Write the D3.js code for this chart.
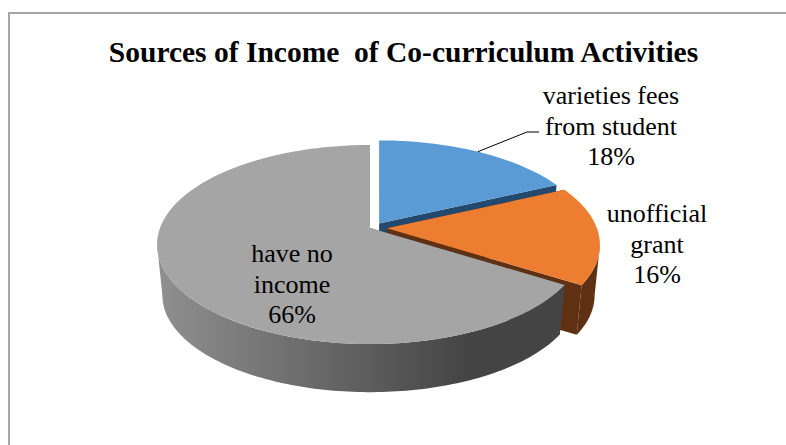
<!doctype html>
<html lang="en">
<head>
<meta charset="utf-8">
<style>
  body { margin: 0; background: #fff; }
  text { font-family: "Liberation Serif", serif; fill: #000; }
</style>
</head>
<body>
<div id="grafico"></div>
<script src="https://d3js.org/d3.v7.min.js"></script>
<script>
const categories = ["varieties fees from student", "unofficial grant", "have no income"];
const shares = [18, 16, 66];
const labelLines = [["varieties fees", "from student", "18%"], ["unofficial", "grant", "16%"], ["have no", "income", "66%"]];
const topColors = ["#5b9bd5", "#ed7d31", "#a5a5a5"];
const sideColors = ["#234a6e", "#5f3112", "#444444"];

const width = 786, height = 445;
const svg = d3.select("#grafico").append("svg").attr("width", width).attr("height", height).style("display", "block");

const line = d3.line();

// frame, only top and left are in the picture
svg.append("path").attr("d", line([[9, height], [9, 13], [width, 13]]))
  .attr("fill", "none").attr("stroke", "#a6a6a6").attr("stroke-width", 2);

svg.append("text").attr("x", 403.5).attr("y", 62).attr("text-anchor", "middle")
  .attr("font-size", 29.5).attr("font-weight", "bold").style("white-space", "pre")
  .text("Sources of Income  of Co-curriculum Activities");

// 3d look: circle -> screen with a little perspective, the back is squeezed
const cx = 370, cy = 228, rx = 210, ry = 96.8, persp = 0.166;
const depth = 51, bottomScale = 0.975;

function project(angle, r, o, low) {
  const k = low ? bottomScale : 1;
  const w = 1 + persp * Math.cos(angle) * r;
  return [
    cx + o[0] + k * rx * r * Math.sin(angle) / w,
    cy + o[1] + (low ? depth : 0) - k * ry * r * Math.cos(angle) / w
  ];
}

const pie = d3.pie().sort(null);
const slices = pie(shares);

function arcPoints(a0, a1, o, low) {
  const n = Math.ceil(Math.abs(a1 - a0) / 0.02);
  return d3.range(n + 1).map(i => project(a0 + (a1 - a0) * i / n, 1, o, low));
}

// small slices are pulled out of the pie
function offset(d) {
  if (d.value > 50) return [0, 0];
  const mid = (d.startAngle + d.endAngle) / 2;
  return [17 * Math.sin(mid), -17 * 0.32 * Math.cos(mid)];
}

const defs = svg.append("defs");
const grad = defs.append("linearGradient").attr("id", "graySide")
  .attr("gradientUnits", "userSpaceOnUse").attr("x1", 164).attr("x2", 470).attr("y1", 0).attr("y2", 0);
grad.append("stop").attr("offset", 0).attr("stop-color", "#8e8e8e");
grad.append("stop").attr("offset", 1).attr("stop-color", "#444444");

// the wall is only seen between the two side extremes of the ellipse
const wallFrom = Math.acos(-persp), wallTo = 2 * Math.PI - wallFrom;

const pieG = svg.append("g");

slices.forEach(d => {
  const o = offset(d);
  const topApex = project(0, 0, o, false), lowApex = project(0, 0, o, true);
  const side = d.index === 2 ? "url(#graySide)" : sideColors[d.index];

  // cut faces, then the outer wall, then the top
  [d.startAngle, d.endAngle].forEach(a => {
    pieG.append("path")
      .attr("d", line([topApex, project(a, 1, o, false), project(a, 1, o, true), lowApex]) + "Z")
      .attr("fill", sideColors[d.index]);
  });
  const a0 = Math.max(d.startAngle, wallFrom), a1 = Math.min(d.endAngle, wallTo);
  if (a1 > a0) {
    pieG.append("path")
      .attr("d", line(arcPoints(a0, a1, o, false).concat(arcPoints(a0, a1, o, true).reverse())) + "Z")
      .attr("fill", side);
  }
  pieG.append("path")
    .attr("d", line([topApex].concat(arcPoints(d.startAngle, d.endAngle, o, false))) + "Z")
    .attr("fill", topColors[d.index]);
});

// labels
const labelPos = [[611, 104], [657, 222], [292, 262]];
const lineStep = 30.5;
labelLines.forEach((lines, i) => {
  const t = svg.append("text").attr("font-size", 26).attr("text-anchor", "middle");
  lines.forEach((s, j) => {
    t.append("tspan").attr("x", labelPos[i][0]).attr("y", labelPos[i][1] + j * lineStep).text(s);
  });
});

// leader line of the blue slice
const leadStart = project((slices[0].startAngle + slices[0].endAngle) / 2, 1, offset(slices[0]), false);
svg.append("path")
  .attr("d", line([leadStart, [527, 132], [539, 132]]))
  .attr("fill", "none").attr("stroke", "#000").attr("stroke-width", 1);
</script>
</body>
</html>
